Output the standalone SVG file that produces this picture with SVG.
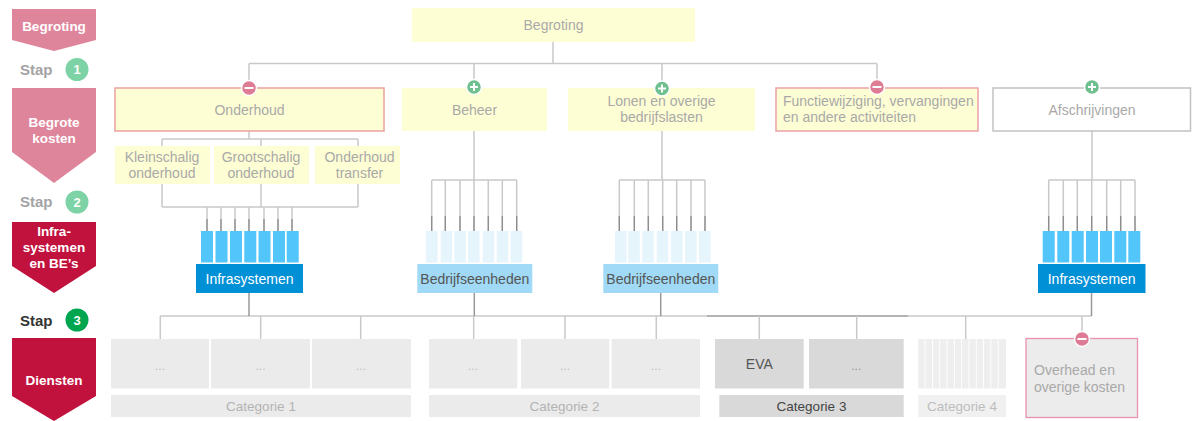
<svg xmlns="http://www.w3.org/2000/svg" width="1192" height="421" viewBox="0 0 1192 421">
<style>
text{font-family:"Liberation Sans",Arial,sans-serif}
.ban{font-size:13.5px;font-weight:bold;fill:#fff;text-anchor:middle}
.stap{font-size:15px;font-weight:bold}
.num{font-size:13px;font-weight:bold;fill:#fff;text-anchor:middle}
.yl{fill:#fefed4}
.t{font-size:14px;fill:#a9a9a9}
.c{text-anchor:middle}
.ln{stroke:#c9c9c9;stroke-width:1.5;fill:none}
.dk{stroke:#8c8c8c;stroke-width:1.3;fill:none}
.blue{fill:#52c5fb}
.pale{fill:#e6f4fc}
.gb{fill:#ebebeb}
.dots{font-size:12px;fill:#bdbdbd;text-anchor:middle}
.cat{font-size:13.5px;text-anchor:middle}
</style>
<defs>
<g id="plus"><circle r="7.5" fill="#6fc08e" stroke="#fff" stroke-width="1.5"/><path d="M-4 0H4M0-4V4" stroke="#fff" stroke-width="2"/></g>
<g id="minus"><circle r="7.5" fill="#de7c96" stroke="#fff" stroke-width="1.5"/><path d="M-4.5 0H4.5" stroke="#fff" stroke-width="2"/></g>
</defs>
<rect width="1192" height="421" fill="#fff"/>

<!-- left column -->
<g id="banner-begroting"><polygon points="12,9 96,9 96,40 54,51 12,40" fill="#df859b"/><text class="ban" x="54" y="31">Begroting</text></g>
<g id="stap1"><text class="stap" x="20" y="75" fill="#a3a3a3">Stap</text><circle cx="77" cy="69.5" r="11.5" fill="#7dd3a5"/><text class="num" x="77" y="74">1</text></g>
<g id="banner-begrote-kosten"><polygon points="12,88 96,88 96,152 54,183 12,152" fill="#df859b"/><text class="ban" x="54" y="127">Begrote</text><text class="ban" x="54" y="143">kosten</text></g>
<g id="stap2"><text class="stap" x="20" y="207" fill="#a3a3a3">Stap</text><circle cx="77" cy="202" r="11.5" fill="#7dd3a5"/><text class="num" x="77" y="206.5">2</text></g>
<g id="banner-infra"><polygon points="12,222 96,222 96,266 54,293 12,266" fill="#c1123d"/><text class="ban" x="54" y="236">Infra-</text><text class="ban" x="54" y="252">systemen</text><text class="ban" x="54" y="268">en BE’s</text></g>
<g id="stap3"><text class="stap" x="20" y="325.5" fill="#333">Stap</text><circle cx="77" cy="320" r="11.5" fill="#00a550"/><text class="num" x="77" y="324.5">3</text></g>
<g id="banner-diensten"><polygon points="12,338 96,338 96,396 54,421 12,396" fill="#c1123d"/><text class="ban" x="54" y="385">Diensten</text></g>

<!-- connectors -->
<g id="connectors">
<path class="ln" d="M553 42V63.5M249 63.5H877M249 63.5V88M474 63.5V88M662 63.5V88M877 63.5V88"/>
<path class="ln" d="M249 131V139M162 139H358M162 139V146M261 139V146M358 139V146"/>
<path class="ln" d="M162 184V207M261 184V207M358 184V207M162 207H358"/>
<path class="ln" d="M207 207V231M221 207V231M235 207V231M249 207V231M264 207V231M278 207V231M292 207V231"/>
<path class="dk" d="M207 219V231M221 219V231M235 219V231M249 219V231M264 219V231M278 219V231M292 219V231"/>
<path class="ln" d="M474 131V180M431.7 180H516.7M431.7 180V231M445.3 180V231M460 180V231M474 180V231M488.3 180V231M502.3 180V231M516.7 180V231"/>
<path class="dk" d="M431.7 216V231M445.3 216V231M460 216V231M474 216V231M488.3 216V231M502.3 216V231M516.7 216V231"/>
<path class="ln" d="M662 131V180M619.3 180H705M619.3 180V231M634.3 180V231M648.3 180V231M662.7 180V231M676.7 180V231M691 180V231M705 180V231"/>
<path class="dk" d="M619.3 216V231M634.3 216V231M648.3 216V231M662.7 216V231M676.7 216V231M691 216V231M705 216V231"/>
<path class="ln" d="M1092 131V180M1048.7 180H1135M1048.7 180V231M1063.3 180V231M1077.3 180V231M1091.7 180V231M1106.7 180V231M1120.7 180V231M1135 180V231"/>
<path class="dk" d="M1048.7 216V231M1063.3 216V231M1077.3 216V231M1091.7 216V231M1106.7 216V231M1120.7 216V231M1135 216V231"/>
<path class="ln" d="M160.3 316H1091.5"/>
<path stroke="#a9a9a9" stroke-width="1.5" d="M707 316H908"/>
<path stroke="#999" stroke-width="1.5" d="M249 293V316M474.3 293V316M660.7 293V316M1091.5 293V316"/>
<path class="ln" d="M160.3 316V339M260.7 316V339M360.7 316V339M473.7 316V339M565 316V339M656.3 316V339M759.3 316V339M856.7 316V339M965.7 316V339M1082 316V338"/>
</g>

<!-- top -->
<g id="node-begroting"><rect class="yl" x="412" y="8" width="283" height="34"/><text class="t c" x="553.5" y="30">Begroting</text></g>

<!-- level 1 -->
<g id="node-onderhoud"><rect class="yl" x="115" y="88" width="269" height="43" stroke="#eba0a0" stroke-width="1.5"/><text class="t c" x="249.5" y="114.5">Onderhoud</text><use href="#minus" x="249" y="88"/></g>
<g id="node-beheer"><rect class="yl" x="402" y="88" width="145" height="43"/><text class="t c" x="474.5" y="114.5">Beheer</text><use href="#plus" x="474" y="87"/></g>
<g id="node-lonen"><rect class="yl" x="568" y="88" width="187" height="43"/><text class="t c" x="661.5" y="105.5">Lonen en overige</text><text class="t c" x="661.5" y="122">bedrijfslasten</text><use href="#plus" x="662" y="88.5"/></g>
<g id="node-functiewijziging"><rect class="yl" x="776" y="88" width="202" height="43" stroke="#eba0a8" stroke-width="1.5"/><text class="t" x="783" y="105.5">Functiewijziging, vervangingen</text><text class="t" x="783" y="122">en andere activiteiten</text><use href="#minus" x="877" y="87"/></g>
<g id="node-afschrijvingen"><rect x="993" y="88" width="197.5" height="43" fill="#fff" stroke="#c2c2c2" stroke-width="1.5"/><text class="t c" x="1092" y="114.5">Afschrijvingen</text><use href="#plus" x="1092" y="87"/></g>

<!-- onderhoud subs -->
<g id="node-kleinschalig"><rect class="yl" x="115" y="146" width="95" height="38"/><text class="t c" x="162" y="161.5">Kleinschalig</text><text class="t c" x="162" y="178">onderhoud</text></g>
<g id="node-grootschalig"><rect class="yl" x="214" y="146" width="95" height="38"/><text class="t c" x="261" y="161.5">Grootschalig</text><text class="t c" x="261" y="178">onderhoud</text></g>
<g id="node-transfer"><rect class="yl" x="315" y="146" width="85" height="38"/><text class="t c" x="359.5" y="161.5">Onderhoud</text><text class="t c" x="359.5" y="178">transfer</text></g>

<!-- bars -->
<g id="bars-infra-1" class="blue"><rect x="201" y="231" width="12" height="31.5"/><rect x="215.5" y="231" width="12" height="31.5"/><rect x="230" y="231" width="12" height="31.5"/><rect x="244.3" y="231" width="12" height="31.5"/><rect x="258.5" y="231" width="12" height="31.5"/><rect x="273" y="231" width="12" height="31.5"/><rect x="286.7" y="231" width="12" height="31.5"/></g>
<g id="node-infrasystemen-1"><rect x="196" y="264" width="107" height="29" fill="#0090d6"/><text class="c" x="249.5" y="284" font-size="14" fill="#fff">Infrasystemen</text></g>
<g id="bars-be-1" class="pale"><rect x="426" y="231" width="11.5" height="31.5"/><rect x="440.7" y="231" width="11.5" height="31.5"/><rect x="454.3" y="231" width="11.5" height="31.5"/><rect x="468" y="231" width="11.5" height="31.5"/><rect x="482.7" y="231" width="11.5" height="31.5"/><rect x="496.7" y="231" width="11.5" height="31.5"/><rect x="510.7" y="231" width="11.5" height="31.5"/></g>
<g id="node-bedrijfseenheden-1"><rect x="417.3" y="264" width="115" height="29" fill="#a0daf6"/><text class="c" x="474.8" y="284" font-size="14" fill="#555">Bedrijfseenheden</text></g>
<g id="bars-be-2" class="pale"><rect x="615" y="231" width="11.5" height="31.5"/><rect x="628.3" y="231" width="11.5" height="31.5"/><rect x="642.3" y="231" width="11.5" height="31.5"/><rect x="656.7" y="231" width="11.5" height="31.5"/><rect x="671" y="231" width="11.5" height="31.5"/><rect x="685" y="231" width="11.5" height="31.5"/><rect x="699" y="231" width="11.5" height="31.5"/></g>
<g id="node-bedrijfseenheden-2"><rect x="603.3" y="264" width="115" height="29" fill="#a0daf6"/><text class="c" x="660.8" y="284" font-size="14" fill="#555">Bedrijfseenheden</text></g>
<g id="bars-infra-2" class="blue"><rect x="1042.7" y="231" width="12" height="31.5"/><rect x="1057.3" y="231" width="12" height="31.5"/><rect x="1071.7" y="231" width="12" height="31.5"/><rect x="1086" y="231" width="12" height="31.5"/><rect x="1100" y="231" width="12" height="31.5"/><rect x="1114.3" y="231" width="12" height="31.5"/><rect x="1128.3" y="231" width="12" height="31.5"/></g>
<g id="node-infrasystemen-2"><rect x="1038" y="264" width="107.5" height="29" fill="#0090d6"/><text class="c" x="1091.7" y="284" font-size="14" fill="#fff">Infrasystemen</text></g>

<!-- diensten -->
<g id="cat1">
<rect class="gb" x="111" y="339" width="98" height="49.5"/><text class="dots" x="160" y="370">...</text>
<rect class="gb" x="211" y="339" width="99" height="49.5"/><text class="dots" x="260.5" y="370">...</text>
<rect class="gb" x="312" y="339" width="99" height="49.5"/><text class="dots" x="361" y="370">...</text>
<rect class="gb" x="111" y="395" width="300" height="22"/><text class="cat" x="261" y="411" fill="#b3b3b3">Categorie 1</text>
</g>
<g id="cat2">
<rect class="gb" x="429" y="339" width="88.3" height="49.5"/><text class="dots" x="473" y="370">...</text>
<rect class="gb" x="521" y="339" width="88.3" height="49.5"/><text class="dots" x="565" y="370">...</text>
<rect class="gb" x="611.7" y="339" width="88.3" height="49.5"/><text class="dots" x="656" y="370">...</text>
<rect class="gb" x="429" y="395" width="271" height="22"/><text class="cat" x="564.5" y="411" fill="#b3b3b3">Categorie 2</text>
</g>
<g id="cat3">
<rect x="715" y="339" width="88.7" height="49.5" fill="#d9d9d9"/><text x="759.3" y="369" font-size="14" fill="#555" text-anchor="middle">EVA</text>
<rect x="809" y="339" width="94.7" height="49.5" fill="#d9d9d9"/><text x="856.3" y="370" font-size="12" fill="#999" text-anchor="middle">...</text>
<rect x="719.3" y="395" width="184.4" height="22" fill="#d9d9d9"/><text class="cat" x="811.5" y="411" fill="#444">Categorie 3</text>
</g>
<g id="cat4" fill="#eeeeee">
<rect x="918.3" y="339" width="6.4" height="49.5"/><rect x="925.6" y="339" width="6.4" height="49.5"/><rect x="932.9" y="339" width="6.4" height="49.5"/><rect x="940.2" y="339" width="6.4" height="49.5"/><rect x="947.5" y="339" width="6.4" height="49.5"/><rect x="954.8" y="339" width="6.4" height="49.5"/><rect x="962.1" y="339" width="6.4" height="49.5"/><rect x="969.4" y="339" width="6.4" height="49.5"/><rect x="976.7" y="339" width="6.4" height="49.5"/><rect x="984" y="339" width="6.4" height="49.5"/><rect x="991.3" y="339" width="6.4" height="49.5"/><rect x="998.6" y="339" width="7.4" height="49.5"/>
<rect x="918.3" y="395" width="87.7" height="22" fill="#f0f0f0"/><text class="cat" x="962" y="411" fill="#bdbdbd">Categorie 4</text>
</g>
<g id="node-overhead"><rect x="1026" y="338.5" width="111.5" height="79" fill="#ececec" stroke="#e893ad" stroke-width="1.3"/><text class="t" x="1034" y="375">Overhead en</text><text class="t" x="1034" y="392">overige kosten</text><use href="#minus" x="1082" y="339"/></g>
</svg>
